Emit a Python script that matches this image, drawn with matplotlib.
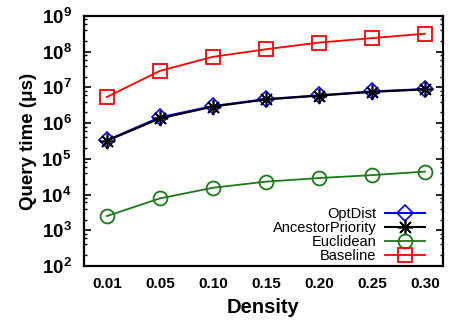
import matplotlib
matplotlib.use("Agg")
import matplotlib.pyplot as plt
from matplotlib.ticker import LogLocator, NullFormatter, FixedLocator

plt.rcParams['font.family'] = ['Liberation Sans', 'DejaVu Sans']
plt.rcParams['mathtext.fontset'] = 'custom'
plt.rcParams['mathtext.rm'] = 'Liberation Sans:bold'
plt.rcParams['mathtext.bf'] = 'Liberation Sans:bold'
plt.rcParams['mathtext.it'] = 'Liberation Sans:bold:italic'

densities = ["0.01", "0.05", "0.10", "0.15", "0.20", "0.25", "0.30"]
optdist = [3.3e5, 1.45e6, 3.0e6, 4.7e6, 6.0e6, 7.7e6, 9.0e6]
ancestor = [3.2e5, 1.35e6, 2.9e6, 4.6e6, 5.9e6, 7.5e6, 8.8e6]
euclidean = [2.5e3, 7.8e3, 1.55e4, 2.3e4, 2.9e4, 3.5e4, 4.4e4]
baseline = [5.4e6, 2.9e7, 7.2e7, 1.17e8, 1.8e8, 2.4e8, 3.2e8]

fig = plt.figure(figsize=(4.5, 3.24), dpi=100)
ax = fig.add_axes([84/450, 1-266/324, (443-84)/450, (266-16)/324])

x = list(range(len(densities)))
ax.plot(x, optdist, color='blue', marker='D', mfc='none', ms=8, mew=1.2, lw=1.5, label='OptDist')
ax.plot(x, ancestor, color='black', marker=(8, 2, 0), ms=11, mew=1.2, lw=1.5, label='AncestorPriority')
ax.plot(x, euclidean, color='#1a7a1a', marker='o', mfc='none', ms=10, mew=1.3, lw=1.3, label='Euclidean')
ax.plot(x, baseline, color='red', marker='s', mfc='none', ms=10, mew=1.3, lw=1.3, label='Baseline')

ax.set_yscale('log')
ax.set_ylim(1e2, 1e9)
ax.set_xlim(-0.43, 6.34)
ax.set_xticks(x)
ax.set_xticklabels(densities, fontsize=11, fontweight='bold')
ax.yaxis.set_major_locator(FixedLocator([10.0**k for k in range(2, 10)]))
ax.set_yticklabels([r'$\mathbf{10^{%d}}$' % k for k in range(2, 10)], fontsize=13.5)
ax.yaxis.set_minor_locator(LogLocator(base=10, subs=[2, 4, 6, 8], numticks=20))
ax.yaxis.set_minor_formatter(NullFormatter())
ax.tick_params(axis='y', which='major', direction='in', length=5, width=1.2, right=True, pad=9)
ax.tick_params(axis='y', which='minor', direction='in', length=2.5, width=1.0, right=True)
ax.tick_params(axis='x', which='both', length=0, pad=8)
for s in ax.spines.values():
    s.set_linewidth(1.6)

ax.set_xlabel('Density', fontsize=14.5, fontweight='bold', labelpad=5)
ax.set_ylabel('Query time (\u03bcs)', fontsize=13.5, fontweight='bold', labelpad=3)

leg = ax.legend(loc='lower right', frameon=False, markerfirst=False, fontsize=10.5,
                handlelength=2.7, labelspacing=0.0, handletextpad=0.6,
                bbox_to_anchor=(0.965, -0.01), borderaxespad=0.0)

fig.savefig('out.png', dpi=100)
